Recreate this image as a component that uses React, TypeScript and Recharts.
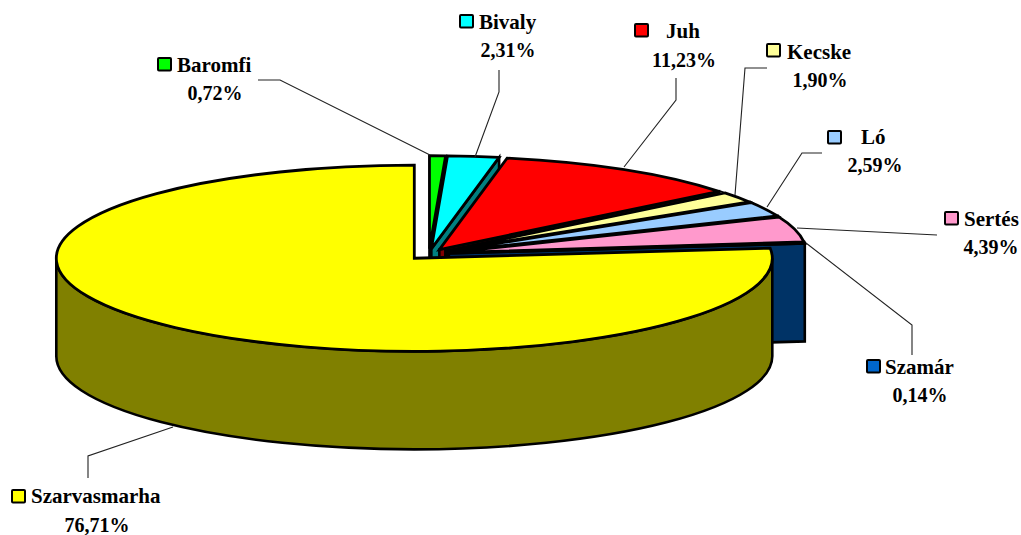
import React from "react";
import { PieChart, Pie, Cell } from "recharts";

const names = ["Baromfi", "Bivaly", "Juh", "Kecske", "Ló", "Sertés", "Szamár", "Szarvasmarha"];
const shares = [0.72, 2.31, 11.23, 1.9, 2.59, 4.39, 0.14, 76.71];
const topColors = ["#00ff00", "#00ffff", "#ff0000", "#ffff99", "#99ccff", "#ff99cc", "#0066cc", "#ffff00"];
const sideColors = ["#008000", "#008080", "#800000", "#80804d", "#4d6680", "#804d66", "#003366", "#808000"];

const rows = names.map((name, i) => ({ name, value: shares[i] }));

// Layout (not data): the chart is a squashed, exploded pie
const W = 1021;
const H = 535;
const CX = 429;
const CY = 254;
const RX = 358;
const SQUASH = 0.26;
const DEPTH = 98;
const EXPLODE_SMALL = 20;
const EXPLODE_MAIN = 22;
const FONT = "'Liberation Serif', serif";
const FS_NAME = 21;
const FS_PCT = 20;

type LabelBox = {
  key: [number, number];
  nameX: number;
  nameY: number;
  pctX: number;
  pctY: number;
  leader: [number, number][];
};

const labelLayout: LabelBox[] = [
  { key: [158, 58], nameX: 177, nameY: 72, pctX: 215, pctY: 100, leader: [[258, 80], [280, 80], [430, 155]] },
  { key: [460, 15], nameX: 479, nameY: 29, pctX: 508, pctY: 57, leader: [[499, 70], [499, 92], [475, 157]] },
  { key: [635, 24], nameX: 666, nameY: 38, pctX: 684, pctY: 67, leader: [[676, 78], [676, 100], [624, 167]] },
  { key: [767, 44], nameX: 787, nameY: 59, pctX: 820, pctY: 87, leader: [[767, 68], [745, 68], [735, 195]] },
  { key: [828, 131], nameX: 861, nameY: 144, pctX: 875, pctY: 172, leader: [[822, 153], [802, 153], [767, 207]] },
  { key: [945, 212], nameX: 964, nameY: 226, pctX: 991, pctY: 254, leader: [[937, 235], [797, 228]] },
  { key: [867, 360], nameX: 885, nameY: 374, pctX: 920, pctY: 402, leader: [[912, 355], [912, 325], [806, 243]] },
  { key: [12, 490], nameX: 31, nameY: 503, pctX: 97, pctY: 532, leader: [[88, 478], [88, 456], [173, 427]] },
];

const rad = (d: number) => (d * Math.PI) / 180;

function SliceShape(props: any) {
  const { startAngle, endAngle, cx, cy, outerRadius, fill, name, payload } = props;
  const label = name ?? payload?.name;
  const idx = names.indexOf(label);
  const rx = outerRadius;
  const ry = outerRadius * SQUASH;
  const t0 = 90 - startAngle; // clockwise from top
  const t1 = 90 - endAngle;
  const mid = rad((t0 + t1) / 2);
  const isMain = t1 - t0 > 180;
  const e = isMain ? EXPLODE_MAIN : EXPLODE_SMALL;
  const ox = cx + e * Math.sin(mid);
  const oy = cy - e * SQUASH * Math.cos(mid);
  const pt = (t: number): [number, number] => [ox + rx * Math.sin(rad(t)), oy - ry * Math.cos(rad(t))];
  const [x0, y0] = pt(t0);
  const [x1, y1] = pt(t1);
  const large = t1 - t0 > 180 ? 1 : 0;
  const top = `M${ox},${oy} L${x0},${y0} A${rx},${ry} 0 ${large} 1 ${x1},${y1} Z`;
  const side = sideColors[idx];
  let wall: string;
  if (isMain) {
    const [ax, ay] = pt(90);
    const [bx, by] = pt(270);
    wall = `M${ax},${ay} A${rx},${ry} 0 0 1 ${bx},${by} L${bx},${by + DEPTH} A${rx},${ry} 0 0 0 ${ax},${ay + DEPTH} Z`;
  } else {
    wall = `M${ox},${oy} L${x1},${y1} L${x1},${y1 + DEPTH} L${ox},${oy + DEPTH} Z`;
  }
  return (
    <g>
      <path d={wall} fill={side} stroke="#000" strokeWidth={2.6} strokeLinejoin="miter" />
      <path d={top} fill={fill} stroke="#000" strokeWidth={2.8} strokeLinejoin="miter" />
    </g>
  );
}

function SliceLabel(props: any) {
  const { index, value } = props;
  const box = labelLayout[index];
  const base = { fontFamily: FONT, fontWeight: 700, fill: "#000" };
  return (
    <g>
      <polyline
        points={box.leader.map((p) => p.join(",")).join(" ")}
        fill="none"
        stroke="#222"
        strokeWidth={1.1}
      />
      <rect x={box.key[0]} y={box.key[1]} width={13} height={12.5} rx={1} fill={topColors[index]} stroke="#000" strokeWidth={2} />
      <text x={box.nameX} y={box.nameY} style={{ ...base, fontSize: FS_NAME }}>
        {names[index]}
      </text>
      <text x={box.pctX} y={box.pctY} textAnchor="middle" style={{ ...base, fontSize: FS_PCT }}>
        {Number(value).toFixed(2).replace(".", ",")}%
      </text>
    </g>
  );
}

export default function App() {
  return (
    <div style={{ position: "absolute", left: 0, top: 0, width: W, height: H, background: "#fff" }}>
      <PieChart width={W} height={H} margin={{ top: 0, right: 0, bottom: 0, left: 0 }}>
        <Pie
          data={rows}
          dataKey="value"
          nameKey="name"
          cx={CX}
          cy={CY}
          innerRadius={0}
          outerRadius={RX}
          startAngle={90}
          endAngle={-270}
          isAnimationActive={false}
          stroke="#000"
          shape={SliceShape}
          activeShape={SliceShape}
          inactiveShape={SliceShape}
          label={SliceLabel}
          labelLine={false}
        >
          {rows.map((r, i) => (
            <Cell key={r.name} fill={topColors[i]} />
          ))}
        </Pie>
      </PieChart>
    </div>
  );
}
